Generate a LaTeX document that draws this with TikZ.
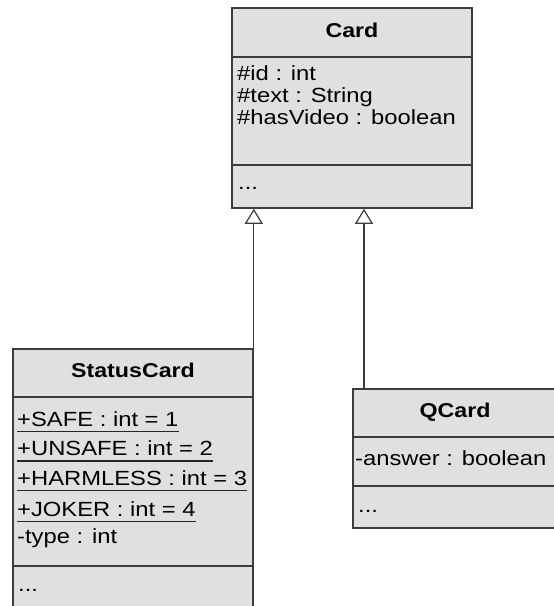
\documentclass[tikz,border=0pt]{standalone}
\usepackage{fontspec}
\setmainfont{Liberation Sans}[FakeStretch=1.16]
\usetikzlibrary{arrows.meta,calc}
\definecolor{boxfill}{RGB}{224,224,224}
\definecolor{boxline}{RGB}{60,60,60}
\begin{document}
\begin{tikzpicture}[x=1pt,y=-1pt,
  umlbox/.style={draw=boxline,fill=boxfill,line width=1.6pt,inner sep=0pt,rectangle},
  divider/.style={draw=boxline,line width=1.6pt},
  uline/.style={draw=black!85,line width=1.4pt},
  attr/.style={anchor=base west,inner sep=0pt,font=\fontsize{20.5}{22}\selectfont},
  title/.style={anchor=base,inner sep=0pt,font=\fontsize{20}{22}\selectfont\bfseries},
  inherit/.style={draw=boxline,line width=1.2pt,-{Triangle[open,length=15pt,width=18pt,line width=1.2pt]}}]
\useasboundingbox (0,0) rectangle (554,606);
\clip (0,0) rectangle (554,606);
\fill[white] (0,0) rectangle (554,606);

% Card
\node[umlbox,minimum width=240pt,minimum height=200pt] (card) at (352,108) {};
\draw[divider] (card.west |- 0,57) -- (card.east |- 0,57);
\draw[divider] (card.west |- 0,165) -- (card.east |- 0,165);
\node[title] (cardt) at (352,37) {Card};
\node[attr] (c1) at (237,80) {\#id : int};
\node[attr] (c2) at (237,102) {\#text : String};
\node[attr] (c3) at (237,124) {\#hasVideo : boolean};
\node[attr] (c4) at (238,189) {...};

% StatusCard
\node[umlbox,minimum width=240pt,minimum height=263pt] (status) at (133,480.5) {};
\draw[divider] (status.west |- 0,397) -- (status.east |- 0,397);
\draw[divider] (status.west |- 0,566) -- (status.east |- 0,566);
\node[title] (statust) at (133,377) {StatusCard};
\node[attr] (s1) at (17,426) {+SAFE : int = 1};
\node[attr] (s2) at (17,455.5) {+UNSAFE : int = 2};
\node[attr] (s3) at (17,485) {+HARMLESS : int = 3};
\node[attr] (s4) at (17,516) {+JOKER : int = 4};
\node[attr] (s5) at (17,543) {-type : int};
\node[attr] (s6) at (18,591) {...};
\foreach \n in {s1,s2,s3,s4}
  \draw[uline] ($(\n.base west)+(0,5.5)$) -- ($(\n.base east)+(0,5.5)$);

% QCard
\node[umlbox,minimum width=204pt,minimum height=139pt] (qcard) at (455,458.5) {};
\draw[divider] (qcard.west |- 0,437) -- (qcard.east |- 0,437);
\draw[divider] (qcard.west |- 0,486) -- (qcard.east |- 0,486);
\node[title] (qcardt) at (455,417) {QCard};
\node[attr] (q1) at (355,465) {-answer : boolean};
\node[attr] (q2) at (358,512) {...};

% Inheritance
\coordinate (qtop) at (364,389);
\draw[inherit] (status.north east) -- (status.north east |- card.south);
\draw[inherit] (qtop) -- (qtop |- card.south);
\end{tikzpicture}
\end{document}
